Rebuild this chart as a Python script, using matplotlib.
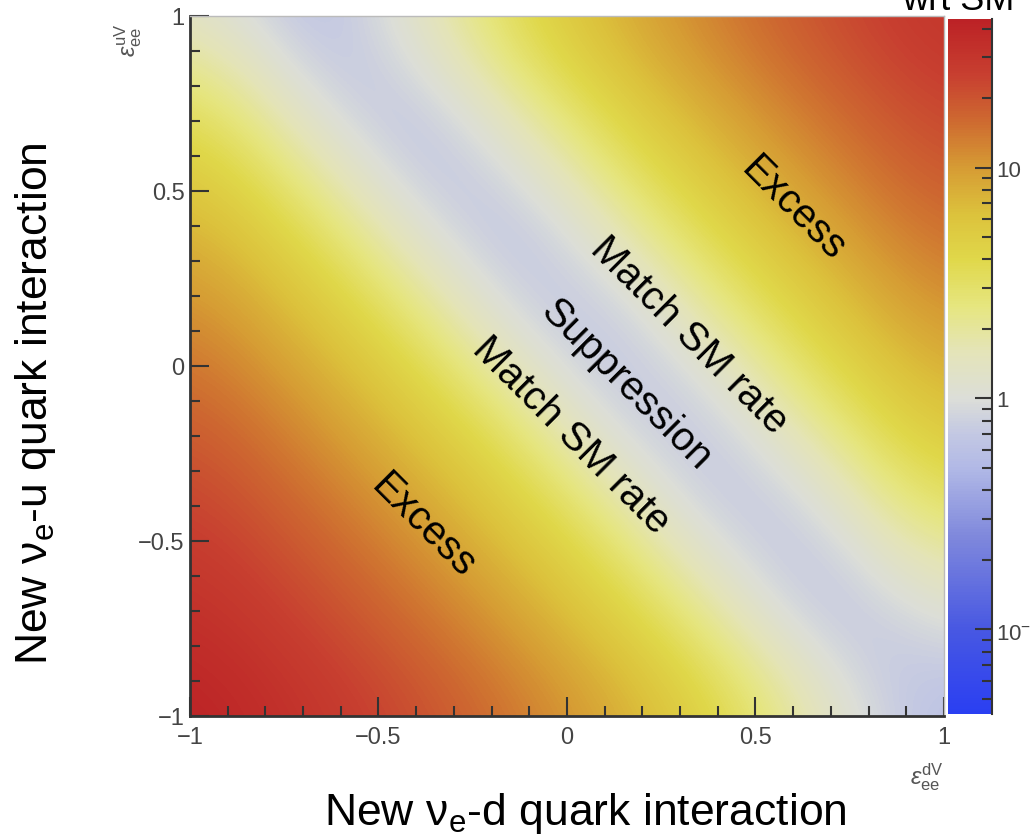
import numpy as np
import matplotlib.pyplot as plt
from matplotlib.colors import LogNorm, LinearSegmentedColormap
from matplotlib.ticker import MultipleLocator, LogLocator

plt.rcParams['font.family'] = ['Liberation Sans', 'DejaVu Sans']
plt.rcParams['mathtext.fontset'] = 'custom'
plt.rcParams['mathtext.rm'] = 'Liberation Sans'
plt.rcParams['mathtext.it'] = 'Liberation Sans:italic'

# grid of couplings (x = eps_dV, y = eps_uV)
eps_d = [-1.0, -0.75, -0.5, -0.25, 0.0, 0.25, 0.5, 0.75, 1.0]
eps_u = [-1.0, -0.75, -0.5, -0.25, 0.0, 0.25, 0.5, 0.75, 1.0]

# rate wrt SM, one row per eps_u (bottom -> top)
ratio_rows = [
    [44.0, 33.5, 24.6, 17.0, 10.9, 6.1, 2.7, 0.95, 0.55],
    [35.0, 25.9, 18.1, 11.8, 6.7, 3.15, 1.1, 0.56, 0.85],
    [27.3, 19.3, 12.7, 7.45, 3.65, 1.3, 0.58, 0.75, 2.0],
    [20.5, 13.7, 8.2, 4.2, 1.55, 0.62, 0.68, 1.7, 4.5],
    [14.6, 9.0, 4.7, 1.82, 0.68, 0.6, 1.45, 3.95, 7.9],
    [9.8, 5.3, 2.2, 0.78, 0.57, 1.2, 3.4, 7.1, 12.3],
    [5.9, 2.6, 0.9, 0.55, 1.0, 2.95, 6.45, 11.4, 17.6],
    [3.05, 1.05, 0.55, 0.88, 2.5, 5.8, 10.5, 16.5, 24.0],
    [1.25, 0.57, 0.77, 2.1, 5.2, 9.7, 15.5, 22.8, 31.3],
]

tick_vals = [-1, -0.5, 0, 0.5, 1]
tick_labels = ['\u22121', '\u22120.5', '0', '0.5', '1']
cbar_ticks = [0.1, 1, 10]
cbar_labels = ['$10^{-1}$', '1', '10']

# annotations: text, x, y
notes = [
    ('Excess', 0.60, 0.45),
    ('Match SM rate', 0.324, 0.091),
    ('Suppression', 0.157, -0.05),
    ('Match SM rate', 0.01, -0.195),
    ('Excess', -0.38, -0.455),
]

# palette (ROOT-like blue -> grey -> yellow -> red), anchored in rate
vmin, vmax = 0.043, 44.0
pal_vals = [0.043, 0.1, 0.25, 0.5, 0.7, 1.0, 1.6, 2.5, 4.0, 6.3, 10, 16, 25, 44]
pal_cols = ['#2a3ff2', '#4858e2', '#7f88dc', '#b2b9e6', '#c3c8e3', '#dcded8',
            '#e4e4b8', '#e6e680', '#e0d84a', '#dcc23c', '#d69c34', '#ce6a30',
            '#c84030', '#bc2226']
norm = LogNorm(vmin=vmin, vmax=vmax)
pos = np.clip(np.asarray(norm(pal_vals)), 0, 1)
pos[0], pos[-1] = 0.0, 1.0
cmap = LinearSegmentedColormap.from_list('rate', list(zip(pos, pal_cols)))

fig = plt.figure(figsize=(10.32, 8.37), dpi=100)
ax = fig.add_axes([0.1841, 0.1434, 0.7306, 0.8363])
cax = fig.add_axes([0.9186, 0.1458, 0.0426, 0.8303])

ratio = np.array(ratio_rows)
hx = (eps_d[1] - eps_d[0]) / 2
hy = (eps_u[1] - eps_u[0]) / 2
im = ax.imshow(ratio, origin='lower', cmap=cmap, norm=norm, aspect='auto',
               extent=[eps_d[0] - hx, eps_d[-1] + hx, eps_u[0] - hy, eps_u[-1] + hy],
               interpolation='bicubic', interpolation_stage='data')
ax.set_xlim(-1, 1)
ax.set_ylim(-1, 1)

ax.set_xticks(tick_vals, tick_labels)
ax.set_yticks(tick_vals, tick_labels)
ax.xaxis.set_minor_locator(MultipleLocator(0.1))
ax.yaxis.set_minor_locator(MultipleLocator(0.1))
ax.tick_params(which='both', direction='in', top=False, right=False,
               color='#333333', width=1.5, labelsize=17, labelcolor='#444444')
ax.tick_params(which='major', length=14)
ax.tick_params(which='minor', length=7)
ax.tick_params(axis='x', pad=7)
ax.tick_params(axis='y', pad=4)
for s in ['left', 'bottom']:
    ax.spines[s].set_color('#333333')
    ax.spines[s].set_linewidth(2)
for s in ['top', 'right']:
    ax.spines[s].set_color('#bbbbbb')
    ax.spines[s].set_linewidth(1)

for txt, x, y in notes:
    ax.text(x, y, txt, rotation=-45, rotation_mode='anchor', ha='center',
            va='center', fontsize=29, color='black')

cbar = fig.colorbar(im, cax=cax)
cbar.outline.set_visible(False)
cbar.set_ticks(cbar_ticks, labels=cbar_labels)
cbar.minorlocator = LogLocator(base=10, subs=np.arange(2, 10))
cax.spines['right'].set_visible(True)
cax.spines['right'].set_color('#333333')
cax.spines['right'].set_linewidth(1.5)
cax.tick_params(which='both', direction='in', right=True, left=False,
                color='#333333', width=1.5, labelsize=16, labelcolor='#444444', pad=3)
cax.tick_params(which='major', length=12)
cax.tick_params(which='minor', length=7)

# axis titles in the corners (ROOT style)
fig.text(128 / 1032, 1 - 40 / 837, r'$\epsilon^{\mathrm{uV}}_{\mathrm{ee}}$', rotation=90,
         ha='center', va='center', fontsize=17, color='#555555')
fig.text(944 / 1032, 1 - 777 / 837, r'$\epsilon^{\mathrm{dV}}_{\mathrm{ee}}$',
         ha='right', va='center', fontsize=17, color='#555555')

# big descriptive labels
fig.text(585 / 1032, 1 - 825 / 837, r'New $\mathrm{\nu_e}$-d quark interaction',
         ha='center', va='baseline', fontsize=32)
fig.text(47 / 1032, 1 - 404 / 837, r'New $\mathrm{\nu_e}$-u quark interaction',
         rotation=90, rotation_mode='anchor', ha='center', va='baseline', fontsize=32)
fig.text(958 / 1032, 1 - 10 / 837, 'wrt SM', ha='center', va='baseline', fontsize=26)

fig.savefig('out.png', dpi=100)
